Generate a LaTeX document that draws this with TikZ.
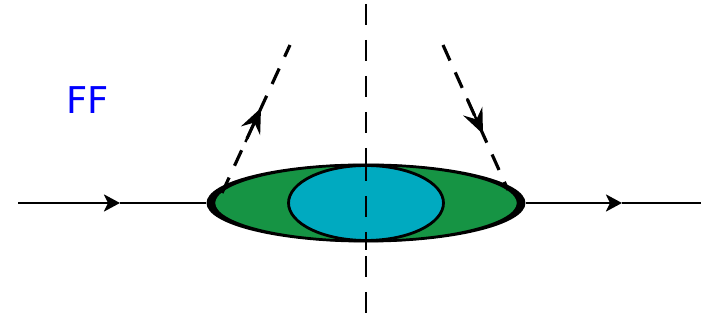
\documentclass[tikz,border=0pt]{standalone}
\usepackage{fontspec}
\setsansfont{DejaVu Sans}
\usepackage{tikz}
\usetikzlibrary{arrows.meta,shapes.geometric,calc}
\definecolor{blobgreen}{RGB}{22,148,68}
\definecolor{corecyan}{RGB}{0,170,192}

\begin{document}
\begin{tikzpicture}[x=0.02cm, y=-0.02cm]
\tikzstyle{fermion}=[line width=1.5pt, black]
\tikzstyle{ghostline}=[line width=1.8pt, dash pattern=on 0.34cm off 0.26cm]
\tikzstyle{cutline}=[line width=0.9pt, dash pattern=on 0.42cm off 0.3cm]
\tikzstyle{tip}=[-{Stealth[length=3.2mm, width=3.4mm, inset=0.8mm]}]
\tikzstyle{ghosttip}=[-{Stealth[length=5mm, width=4.2mm, inset=1.8mm]}]
\useasboundingbox (0,0) rectangle (701,323);
% cut
\coordinate (cutT) at (366,4);
\coordinate (cutB) at (366,323);
\draw[cutline] (cutT) -- (cutB);
% blob
\node[ellipse, fill=black, minimum width=6.38cm, minimum height=1.58cm, inner sep=0pt] (blob) at (366,203) {};
\node[ellipse, draw, line width=1.3pt, fill=blobgreen, minimum width=6.08cm, minimum height=1.52cm, inner sep=0pt] (skin) at (366,203) {};
\node[ellipse, draw, line width=1.6pt, fill=corecyan, minimum width=3.1cm, minimum height=1.5cm, inner sep=0pt] (core) at (366,203) {};
\draw[cutline] (366,160) -- (366,250);
% fermion legs
\coordinate (inL) at (18,203);
\coordinate (inM) at (120,203);
\coordinate (outM) at (622,203);
\coordinate (outR) at (701,203);
\draw[fermion, tip] (inL) -- (inM);
\draw[fermion] (inM) -- (blob.west);
\draw[fermion, tip] (blob.east) -- (outM);
\draw[fermion] (outM) -- (outR);
% dashed legs
\coordinate (ghL) at (222,193);
\coordinate (ghLm) at (261,108);
\coordinate (ghLt) at (290,45);
\coordinate (ghRt) at (443,45);
\coordinate (ghRm) at (483,134);
\coordinate (ghR) at (508,190);
\draw[ghostline] (ghL) -- (ghLt);
\draw[ghostline] (ghRt) -- (ghR);
\draw[ghosttip, line width=1.4pt] ($(ghL)!0.6!(ghLm)$) -- (ghLm);
\draw[ghosttip, line width=1.4pt] ($(ghRt)!0.6!(ghRm)$) -- (ghRm);
% label
\node[text=blue, font=\sffamily\fontsize{21}{24}\selectfont] (lbl) at (88,100) {FF};
\end{tikzpicture}
\end{document}
